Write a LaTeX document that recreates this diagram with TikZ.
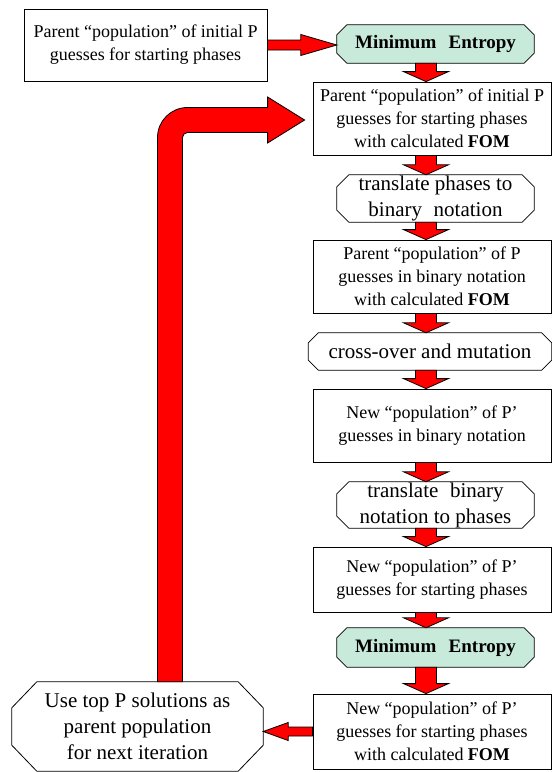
\documentclass[tikz,border=0pt]{standalone}
\usepackage{fontspec}
\setmainfont{Liberation Serif}
\usetikzlibrary{calc, backgrounds}
\definecolor{entgreen}{RGB}{200,234,218}
\definecolor{arrred}{RGB}{255,0,0}

% block arrow going down between two stacked boxes
\newcommand{\downblk}[2]{%
  \draw[blk] let \p1=(#1.south -| colx), \p2=(#2.north -| colx) in
    (\x1-10.5pt,\y1) -- (\x1+10.5pt,\y1) -- (\x1+10.5pt,\y2+10pt)
    -- (\x1+22.5pt,\y2+10pt) -- (\x1,\y2) -- (\x1-22.5pt,\y2+10pt)
    -- (\x1-10.5pt,\y2+10pt) -- cycle;}
% block arrow going sideways: from, to, shaft half, head half, head length
\newcommand{\sideblk}[5]{%
  \draw[blk] let \p1=(#1), \p2=(#2), \n1={#5} in
    (\x1,\y1+#3) -- (\x2-\n1,\y1+#3) -- (\x2-\n1,\y1+#4) -- (\x2,\y1)
    -- (\x2-\n1,\y1-#4) -- (\x2-\n1,\y1-#3) -- (\x1,\y1-#3) -- cycle;}
% cut-corner outline behind a node: name, corner x, corner y, fill
\newcommand{\octo}[4]{%
  \draw[thick, fill=#4] let \p1=(#1.north west), \p2=(#1.south east) in
    (\x1+#2,\y1) -- (\x2-#2,\y1) -- (\x2,\y1-#3) -- (\x2,\y2+#3)
    -- (\x2-#2,\y2) -- (\x1+#2,\y2) -- (\x1,\y2+#3) -- (\x1,\y1-#3) -- cycle;}

\begin{document}
\begin{tikzpicture}[x=1pt, y=-1pt,
    popbox/.style={draw, thick, fill=white, inner sep=0pt, align=center,
      font=\fontsize{18}{23}\selectfont},
    opbox/.style={inner sep=0pt, align=center,
      font=\fontsize{21}{26}\selectfont},
    entbox/.style={opbox, font=\fontsize{19}{23}\selectfont\bfseries},
    blk/.style={draw=black, fill=arrred, line width=0.8pt, line join=miter},
]
\useasboundingbox (0,0) rectangle (552,772);
\coordinate (colx) at (426,0);
\coordinate (bend) at (170,120);

\node[popbox, minimum width=243, minimum height=72] (init) at (145.5,45)
  {Parent “population” of initial P\\guesses for starting phases};
\node[entbox, minimum width=197, minimum height=38] (me1) at (435.5,44)
  {Minimum\hspace{0.4em} Entropy};
\node[popbox, minimum width=238, minimum height=73] (pop0) at (432,118.5)
  {Parent “population” of initial P\\guesses for starting phases\\with calculated \textbf{FOM}};
\node[opbox, minimum width=197, minimum height=47] (tobin) at (435.5,198.5)
  {translate phases to\\binary\hspace{0.3em} notation};
\node[popbox, minimum width=238, minimum height=73] (popbin) at (432,276.5)
  {Parent “population” of P\\guesses in binary notation\\with calculated \textbf{FOM}};
\node[opbox, minimum width=243, minimum height=37] (cross) at (430,351.5)
  {cross-over and mutation};
\node[popbox, minimum width=238, minimum height=73] (newbin) at (432,425.5)
  {New “population” of P’\\guesses in binary notation};
\node[opbox, minimum width=197, minimum height=46] (tophase) at (435.5,505)
  {translate\hspace{0.3em} binary\\notation to phases};
\node[popbox, minimum width=238, minimum height=65] (newpop) at (432,579.5)
  {New “population” of P’\\guesses for starting phases};
\node[entbox, minimum width=197, minimum height=39] (me2) at (435.5,647.5)
  {Minimum\hspace{0.4em} Entropy};
\node[popbox, minimum width=238, minimum height=75] (newfom) at (432,731.5)
  {New “population” of P’\\guesses for starting phases\\with calculated \textbf{FOM}};
\node[opbox, minimum width=251, minimum height=89] (loop) at (137.5,726.5)
  {Use top P solutions as\\parent population\\for next iteration};

\begin{scope}[on background layer]
\octo{me1}{10pt}{10pt}{entgreen}
\octo{me2}{10pt}{10pt}{entgreen}
\octo{tobin}{12pt}{12pt}{white}
\octo{tophase}{12pt}{12pt}{white}
\octo{cross}{10pt}{10pt}{white}
\octo{loop}{25pt}{26pt}{white}
\end{scope}

\sideblk{init.east}{me1.west |- init.east}{5pt}{10.5pt}{36pt}
\downblk{me1}{pop0}
\downblk{pop0}{tobin}
\downblk{tobin}{popbin}
\downblk{popbin}{cross}
\downblk{cross}{newbin}
\downblk{newbin}{tophase}
\downblk{tophase}{newpop}
\downblk{newpop}{me2}
\downblk{me2}{newfom}
\sideblk{newfom.west}{loop.east |- newfom.west}{4.5pt}{9pt}{-25pt}

% the big return arrow
\draw[blk] let \p1=(loop.north -| bend), \p2=(pop0.west |- bend) in
  (\x1-12.5pt,\y1) -- (\x1-12.5pt,\y2-17.5pt)
  arc[start angle=180, end angle=90, radius=30pt]
  -- (\x2-45pt,\y2+12.5pt) -- (\x2-45pt,\y2+23pt) -- (\x2-8pt,\y2)
  -- (\x2-45pt,\y2-23pt) -- (\x2-45pt,\y2-12.5pt) -- (\x1+17.5pt,\y2-12.5pt)
  arc[start angle=90, end angle=180, radius=5pt]
  -- (\x1+12.5pt,\y1) -- cycle;
\end{tikzpicture}
\end{document}
